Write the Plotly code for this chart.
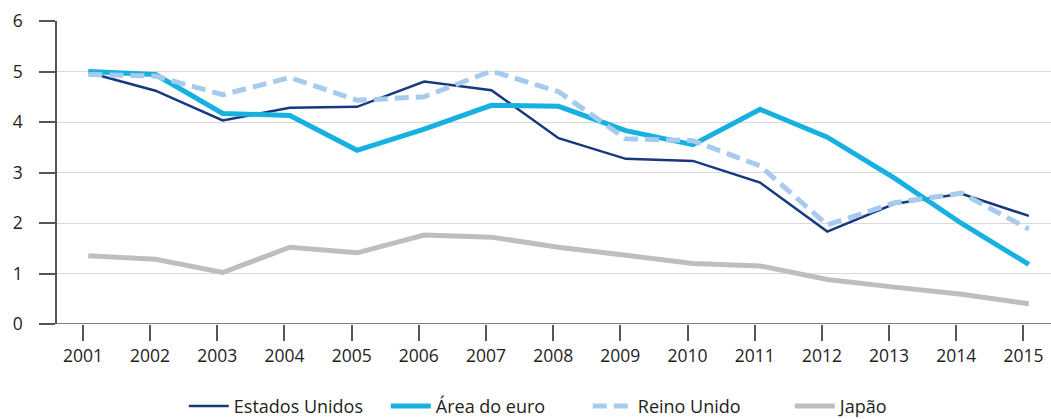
import plotly.graph_objects as go

years = list(range(2001, 2016))
tick_labels = [str(y) for y in years]

estados_unidos = [4.98, 4.62, 4.03, 4.28, 4.30, 4.80, 4.63, 3.68, 3.27, 3.23, 2.80, 1.83, 2.38, 2.58, 2.14]
area_euro = [5.00, 4.94, 4.17, 4.13, 3.44, 3.86, 4.33, 4.31, 3.83, 3.55, 4.25, 3.70, 2.89, 1.99, 1.18]
reino_unido = [4.94, 4.91, 4.54, 4.88, 4.43, 4.50, 5.01, 4.60, 3.67, 3.63, 3.13, 1.96, 2.40, 2.59, 1.88]
japao = [1.35, 1.28, 1.02, 1.52, 1.41, 1.76, 1.72, 1.52, 1.36, 1.20, 1.15, 0.88, 0.73, 0.59, 0.40]

FONT = "Open Sans"
TXT = "#231f20"

fig = go.Figure()
fig.add_trace(go.Scatter(x=years, y=estados_unidos, mode="lines", name="Estados Unidos",
                         line=dict(color="#17387e", width=2.5)))
fig.add_trace(go.Scatter(x=years, y=area_euro, mode="lines", name="Área do euro",
                         line=dict(color="#16b1e0", width=5)))
fig.add_trace(go.Scatter(x=years, y=reino_unido, mode="lines", name="Reino Unido",
                         line=dict(color="#a6cbee", width=5, dash="14px,7px")))
fig.add_trace(go.Scatter(x=years, y=japao, mode="lines", name="Japão",
                         line=dict(color="#bebec2", width=5)))

fig.update_layout(
    width=1051, height=419,
    margin=dict(l=57, r=0, t=21, b=95, autoexpand=False),
    paper_bgcolor="white", plot_bgcolor="white",
    font=dict(family=FONT, size=17.5, color=TXT),
    showlegend=True,
    legend=dict(orientation="h", x=0.534, xanchor="center", y=-0.272, yanchor="middle",
                font=dict(family=FONT, size=18, color=TXT), itemwidth=40,
                entrywidth=147, traceorder="normal"),
    xaxis=dict(
        range=[2000.534, 2015.33],
        tickmode="array",
        tickvals=[y - 0.08 for y in years],
        ticktext=tick_labels,
        showgrid=False, zeroline=False,
        showline=False, automargin=False,
        ticks="outside", ticklen=16, tickwidth=1.5, tickcolor="#555555",
        tickfont=dict(family=FONT, size=17.5, color=TXT),
    ),
    yaxis=dict(
        range=[0, 6], dtick=1, tick0=0,
        showgrid=True, gridcolor="#d9d9d9", gridwidth=1,
        zeroline=False, automargin=False,
        showline=True, linecolor="#555555", linewidth=1.5,
        ticks="outside", ticklen=16, tickwidth=1.5, tickcolor="#555555",
        tickfont=dict(family=FONT, size=17.5, color=TXT),
        ticklabelstandoff=13,
    ),
)
# x-axis baseline at y=0
fig.add_hline(y=0, line=dict(color="#555555", width=1.5), layer="above")

fig.write_html("out.html",
               config={"displayModeBar": False},
               post_script="document.body.style.margin='0';document.body.style.overflow='hidden';")
